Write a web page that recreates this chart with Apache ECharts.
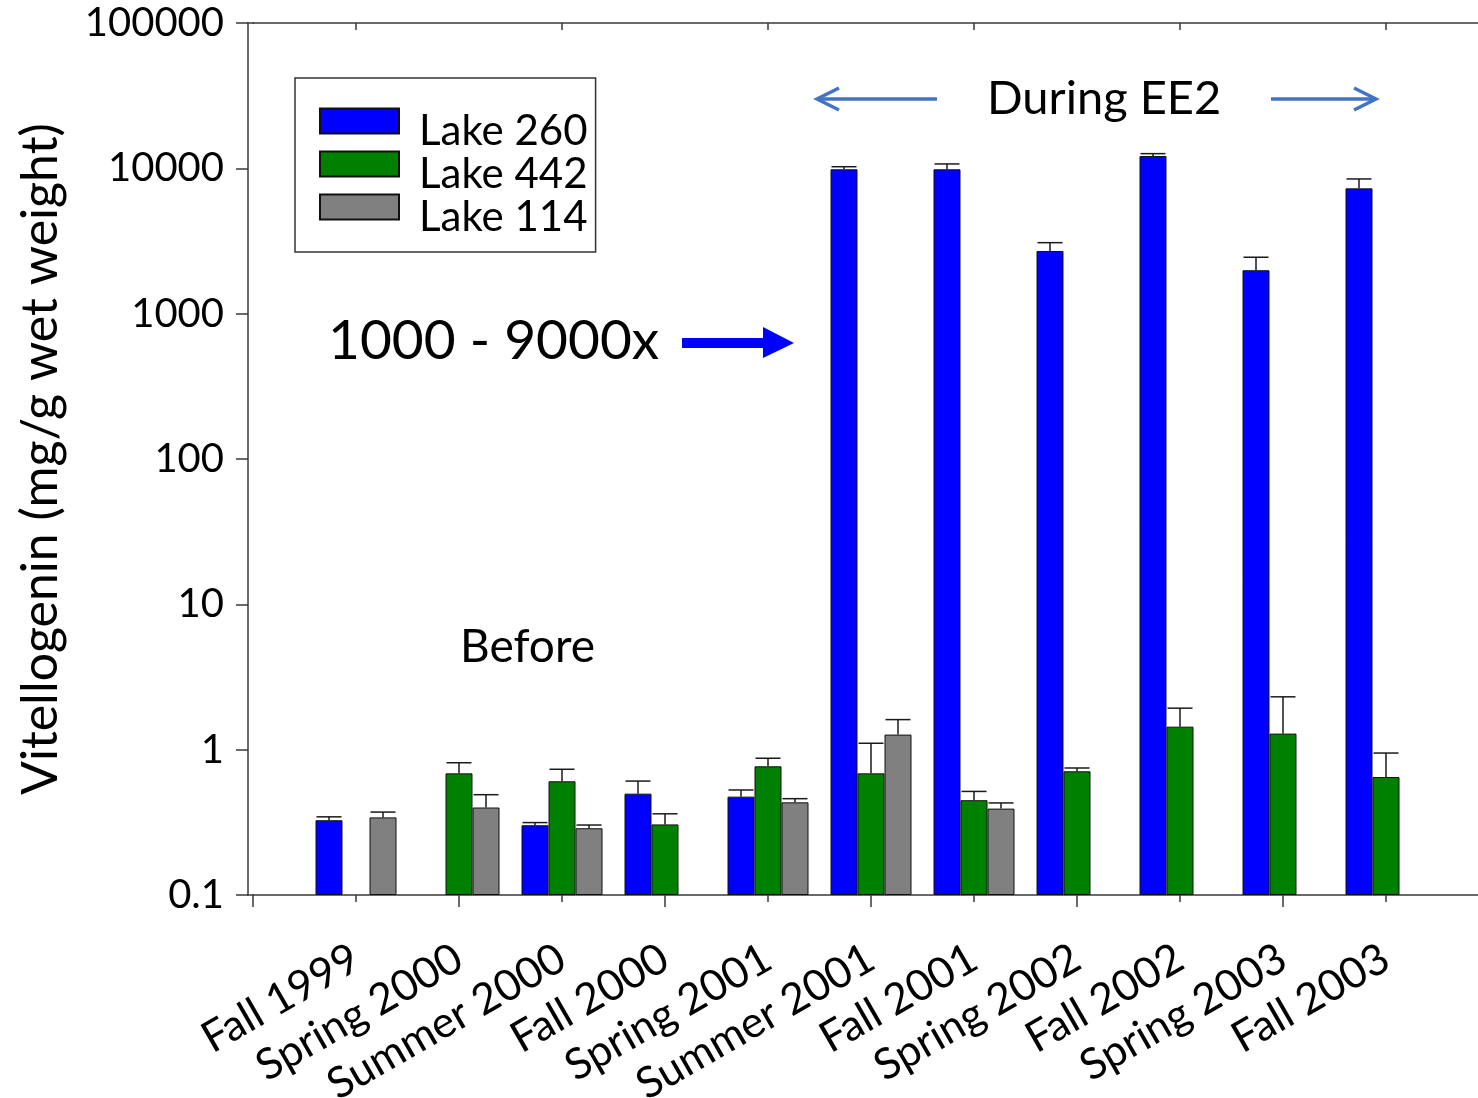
<!DOCTYPE html>
<html>
<head>
<meta charset="utf-8">
<script src="https://cdn.jsdelivr.net/npm/echarts@6/dist/echarts.min.js"></script>
<style>
  html, body { margin: 0; padding: 0; background: #fff; }
  #chart { width: 1478px; height: 1098px; }
</style>
</head>
<body>
<div id="chart"></div>
<script>
// sampling seasons (x categories)
const seasons = ['Fall 1999', 'Spring 2000', 'Summer 2000', 'Fall 2000', 'Spring 2001',
  'Summer 2001', 'Fall 2001', 'Spring 2002', 'Fall 2002', 'Spring 2003', 'Fall 2003']

// mean vitellogenin per lake, with upper error (null = not sampled)
const lake260 = [0.327, null, 0.302, 0.498, 0.475, 9850, 9850, 2700, 12160, 1990, 7280]
const lake260Err = [0.018, null, 0.013, 0.11, 0.053, 410, 870, 380, 460, 455, 1170]
const lake442 = [null, 0.687, 0.606, 0.306, 0.768, 0.687, 0.449, 0.71, 1.44, 1.29, 0.648]
const lake442Err = [null, 0.126, 0.127, 0.056, 0.105, 0.42, 0.067, 0.038, 0.49, 1.02, 0.3]
const lake114 = [0.342, 0.4, 0.288, null, 0.434, 1.27, 0.393, null, null, null, null]
const lake114Err = [0.03, 0.09, 0.015, null, 0.026, 0.34, 0.037, null, null, null, null]

const yTicks = [0.1, 1, 10, 100, 1000, 10000, 100000]

const FONT = 'Lato'
const BAR_W = 27
const CAP_W = 25
const AXIS_COLOR = '#3a3a3a'

// one empty slot on each side, like the original axis
const slots = ['', ...seasons, '']
const pad = arr => [null, ...arr, null]

const errData = []
;[[lake260, lake260Err], [lake442, lake442Err], [lake114, lake114Err]].forEach(([vals, errs], s) => {
  vals.forEach((v, i) => {
    if (v != null) errData.push([i + 1, v, errs[i], s])
  })
})

const renderErr = (params, api) => {
  const idx = api.value(0)
  const v = api.value(1)
  const e = api.value(2)
  const s = api.value(3)
  const base = api.coord([idx, v])
  const top = api.coord([idx, v + e])
  const x = base[0] + (s - 1) * BAR_W
  const style = { stroke: '#1a1a1a', lineWidth: 1.5 }
  return {
    type: 'group',
    children: [
      { type: 'line', shape: { x1: x, y1: base[1], x2: x, y2: top[1] }, style },
      { type: 'line', shape: { x1: x - CAP_W / 2, y1: top[1], x2: x + CAP_W / 2, y2: top[1] }, style }
    ]
  }
}

const tickLine = { color: AXIS_COLOR, width: 1.5 }

const chart = echarts.init(document.getElementById('chart'), null, { renderer: 'canvas' })

const option = {
  backgroundColor: '#fff',
  animation: false,
  textStyle: { fontFamily: FONT },
  grid: { left: 253, right: -11, top: 23, bottom: 203, containLabel: false, outerBoundsMode: 'none' },
  legend: {
    data: ['Lake 260', 'Lake 442', 'Lake 114'],
    orient: 'vertical',
    left: 295,
    top: 78,
    padding: [12, 8, 14, 24],
    itemGap: -19,
    itemWidth: 79,
    itemHeight: 25,
    icon: 'rect',
    borderColor: '#333',
    borderWidth: 1.5,
    // text sits a little below the swatch centre, as in the original
    formatter: '{a|{name}}',
    textStyle: {
      fontSize: 42, fontFamily: FONT, color: '#000',
      rich: { a: { fontSize: 42, fontFamily: FONT, color: '#000', lineHeight: 23, padding: [20, 0, 0, 15] } }
    }
  },
  xAxis: [
    {
      type: 'category',
      data: slots,
      boundaryGap: false,
      position: 'bottom',
      axisLine: { show: true, lineStyle: tickLine },
      axisTick: { show: true, length: 12, interval: i => i % 2 === 0, lineStyle: tickLine },
      axisLabel: { interval: 0, rotate: 30, margin: 60, fontSize: 43, fontFamily: FONT, color: '#000' },
      splitLine: { show: false }
    },
    {
      type: 'category',
      data: slots,
      boundaryGap: false,
      position: 'bottom',
      axisLine: { show: false },
      axisTick: { show: true, length: 7, interval: i => i % 2 === 1, lineStyle: tickLine },
      axisLabel: { show: false },
      splitLine: { show: false }
    },
    {
      type: 'category',
      data: slots,
      boundaryGap: false,
      position: 'top',
      axisLine: { show: true, lineStyle: tickLine },
      axisTick: { show: true, inside: true, length: 7, interval: i => i % 2 === 1, lineStyle: tickLine },
      axisLabel: { show: false },
      splitLine: { show: false }
    }
  ],
  yAxis: {
    type: 'log',
    logBase: 10,
    min: 0.1,
    max: 100000,
    startValue: 0.1,
    offset: 5,
    name: 'Vitellogenin (mg/g wet weight)',
    nameLocation: 'middle',
    nameRotate: 90,
    nameGap: 182,
    nameTextStyle: { fontSize: 50, fontFamily: FONT, color: '#000' },
    axisLine: { show: true, lineStyle: tickLine },
    axisTick: { show: true, length: 12, lineStyle: tickLine },
    minorTick: { show: false },
    splitLine: { show: false },
    axisLabel: {
      fontSize: 40,
      fontFamily: FONT,
      color: '#000',
      margin: 24,
      formatter: v => {
        const t = yTicks.find(t => Math.abs(Math.log10(t) - Math.log10(v)) < 0.01)
        return t != null ? String(t) : ''
      }
    }
  },
  series: [
    {
      name: 'Lake 260', type: 'bar', xAxisIndex: 0, data: pad(lake260),
      barWidth: BAR_W, barGap: '0%',
      itemStyle: { color: '#0000ff', borderColor: '#111', borderWidth: 1 }
    },
    {
      name: 'Lake 442', type: 'bar', xAxisIndex: 0, data: pad(lake442),
      barWidth: BAR_W, barGap: '0%',
      itemStyle: { color: '#008000', borderColor: '#111', borderWidth: 1 }
    },
    {
      name: 'Lake 114', type: 'bar', xAxisIndex: 0, data: pad(lake114),
      barWidth: BAR_W, barGap: '0%',
      itemStyle: { color: '#808080', borderColor: '#111', borderWidth: 1 }
    },
    {
      name: 'errors', type: 'custom', xAxisIndex: 0, data: errData,
      encode: { x: 0, y: 1 }, renderItem: renderErr, z: 5, silent: true
    }
  ],
  graphic: [
    // close the small gap between the y axis and the x axis lines
    { type: 'line', shape: { x1: 247, y1: 895, x2: 254, y2: 895 }, style: { stroke: AXIS_COLOR, lineWidth: 1.5 } },
    { type: 'line', shape: { x1: 247, y1: 23, x2: 254, y2: 23 }, style: { stroke: AXIS_COLOR, lineWidth: 1.5 } },
    // "During EE2" with arrows
    {
      type: 'text', left: 987, top: 75, style: {
        text: 'During EE2', fontSize: 47, fontFamily: FONT, fill: '#000'
      }
    },
    { type: 'line', shape: { x1: 817, y1: 99, x2: 937, y2: 99 }, style: { stroke: '#4472c4', lineWidth: 3.5 } },
    { type: 'polyline', shape: { points: [[839, 88], [817, 99], [839, 110]] }, style: { stroke: '#4472c4', lineWidth: 3.5, fill: null } },
    { type: 'line', shape: { x1: 1271, y1: 99, x2: 1376, y2: 99 }, style: { stroke: '#4472c4', lineWidth: 3.5 } },
    { type: 'polyline', shape: { points: [[1354, 88], [1376, 99], [1354, 110]] }, style: { stroke: '#4472c4', lineWidth: 3.5, fill: null } },
    // fold change annotation
    {
      type: 'text', left: 328, top: 314, style: {
        text: '1000 - 9000x', fontSize: 55, fontFamily: FONT, fill: '#000'
      }
    },
    {
      type: 'polygon',
      shape: { points: [[682, 338], [763, 338], [763, 327], [794, 343], [763, 358], [763, 348], [682, 348]] },
      style: { fill: '#0000ff' }
    },
    {
      type: 'text', left: 460, top: 624, style: {
        text: 'Before', fontSize: 46, fontFamily: FONT, fill: '#000'
      }
    }
  ]
}

chart.setOption(option)
</script>
</body>
</html>
